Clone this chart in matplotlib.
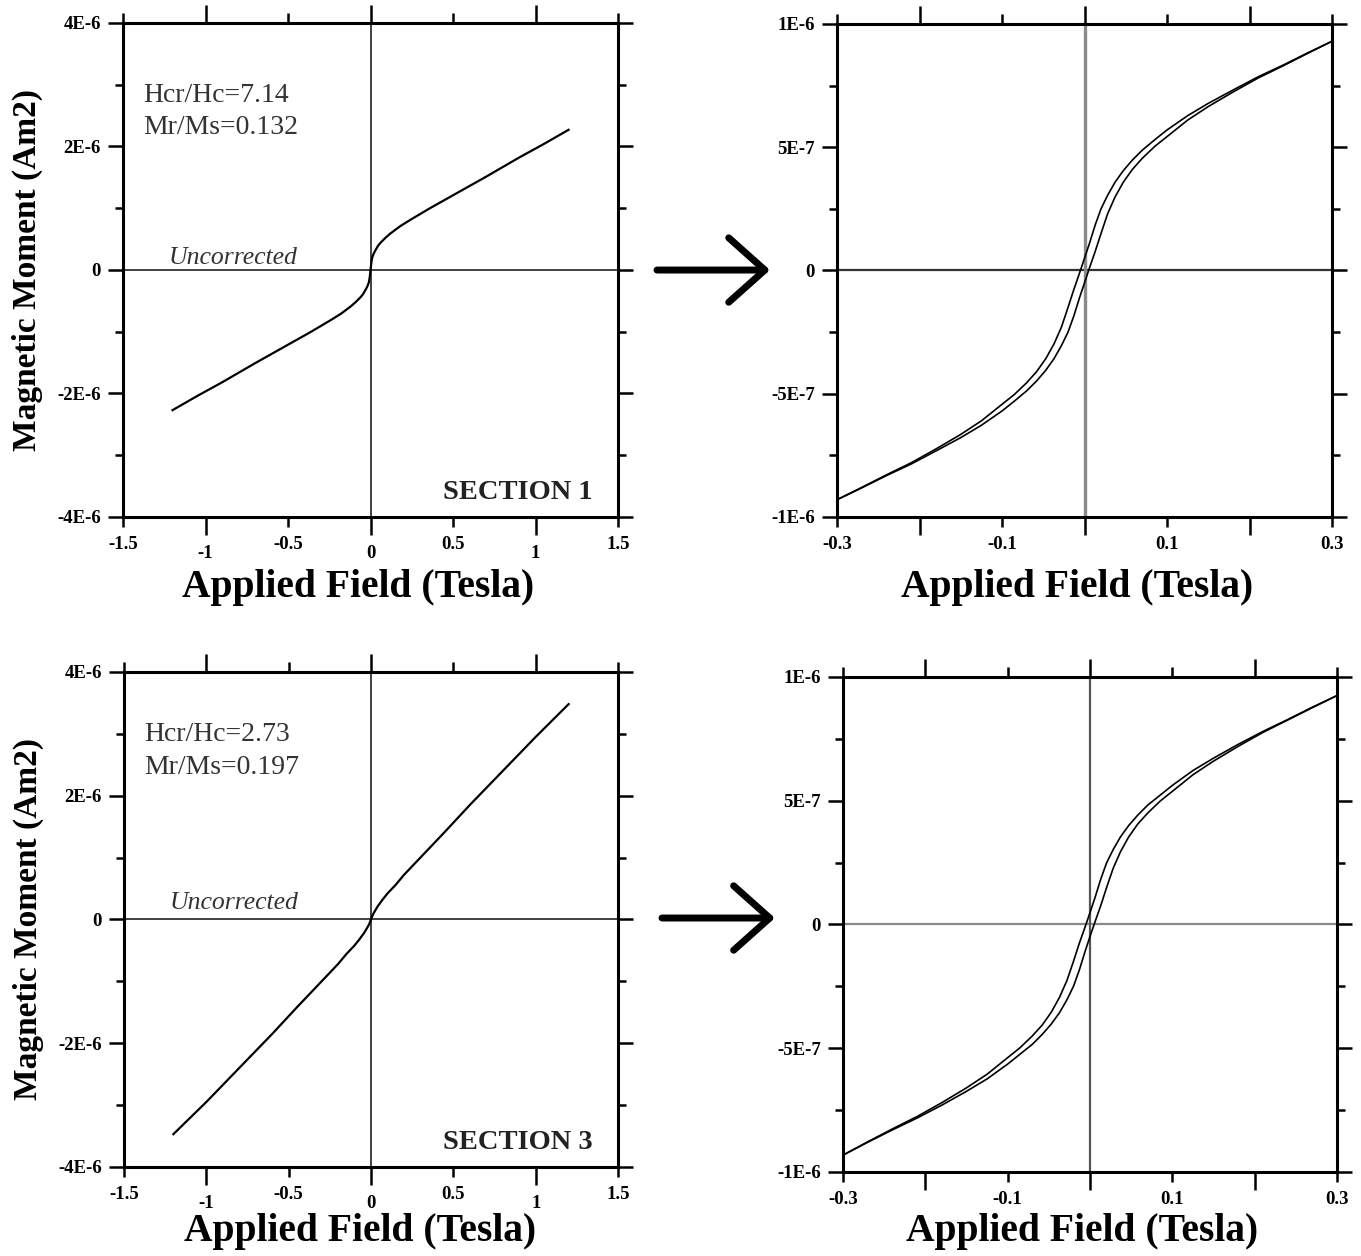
import matplotlib
matplotlib.use('Agg')
import matplotlib.pyplot as plt
from matplotlib.patches import FancyArrowPatch

plt.rcParams['font.family'] = ['Liberation Serif', 'DejaVu Serif']

# ---------------------------------------------------------- dane (moment w jednostkach 1E-6 Am2, pole w Tesli)
# SECTION 1 - petla niekorygowana
s1_field = [-1.20, -1.05, -0.90, -0.70, -0.50, -0.36, -0.24, -0.18, -0.12, -0.09, -0.06, -0.045, -0.03, -0.02,
            -0.01, -0.005, 0.0, 0.005, 0.01, 0.02, 0.03, 0.045, 0.06, 0.09, 0.12, 0.18, 0.24, 0.36, 0.50, 0.70,
            0.90, 1.05, 1.20]
s1_moment = [-2.27, -2.04, -1.82, -1.51, -1.21, -1.00, -0.81, -0.71, -0.59, -0.52, -0.44, -0.39, -0.32, -0.27,
             -0.20, -0.12, 0.0, 0.12, 0.20, 0.27, 0.32, 0.39, 0.44, 0.52, 0.59, 0.71, 0.81, 1.00, 1.21, 1.51,
             1.82, 2.04, 2.27]

# SECTION 3 - petla niekorygowana
s3_field = [-1.20, -1.0, -0.8, -0.6, -0.45, -0.3, -0.2, -0.15, -0.1, -0.07, -0.04, -0.02, -0.01, 0.0,
            0.01, 0.02, 0.04, 0.07, 0.1, 0.15, 0.2, 0.3, 0.45, 0.6, 0.8, 1.0, 1.20]
s3_moment = [-3.47, -2.95, -2.40, -1.85, -1.42, -1.00, -0.72, -0.56, -0.42, -0.32, -0.21, -0.12, -0.07, 0.0,
             0.07, 0.12, 0.21, 0.32, 0.42, 0.56, 0.72, 1.00, 1.42, 1.85, 2.40, 2.95, 3.48]

# SECTION 1 - petla po korekcie (galaz malejaca i rosnaca)
s1_dn_field = [0.300, 0.270, 0.240, 0.210, 0.180, 0.150, 0.125, 0.100, 0.085, 0.070, 0.058, 0.047, 0.037,
               0.028, 0.020, 0.013, 0.006, 0.000, -0.006, -0.013, -0.020, -0.028, -0.037, -0.047, -0.058,
               -0.070, -0.085, -0.100, -0.125, -0.150, -0.180, -0.210, -0.240, -0.270, -0.300]
s1_dn_moment = [0.930, 0.882, 0.832, 0.785, 0.732, 0.678, 0.628, 0.570, 0.530, 0.488, 0.448, 0.405, 0.358,
                0.305, 0.250, 0.185, 0.110, 0.050, -0.010, -0.078, -0.150, -0.230, -0.298, -0.358, -0.410,
                -0.455, -0.503, -0.543, -0.610, -0.665, -0.724, -0.780, -0.829, -0.880, -0.930]
s1_up_field = [-0.300, -0.270, -0.240, -0.210, -0.180, -0.150, -0.125, -0.100, -0.085, -0.070, -0.058, -0.047,
               -0.037, -0.028, -0.020, -0.013, -0.006, 0.000, 0.006, 0.013, 0.020, 0.028, 0.037, 0.047, 0.058,
               0.070, 0.085, 0.100, 0.125, 0.150, 0.180, 0.210, 0.240, 0.270, 0.300]
s1_up_moment = [-0.930, -0.882, -0.832, -0.785, -0.732, -0.678, -0.628, -0.570, -0.530, -0.488, -0.448, -0.405,
                -0.358, -0.305, -0.250, -0.185, -0.110, -0.050, 0.010, 0.078, 0.150, 0.230, 0.298, 0.358, 0.410,
                0.455, 0.503, 0.543, 0.610, 0.665, 0.724, 0.780, 0.829, 0.880, 0.930]

# SECTION 3 - petla po korekcie
s3_dn_field = [0.300, 0.270, 0.240, 0.210, 0.180, 0.150, 0.125, 0.100, 0.085, 0.070, 0.058, 0.047, 0.037,
               0.028, 0.020, 0.013, 0.006, 0.000, -0.006, -0.013, -0.020, -0.028, -0.037, -0.047, -0.058,
               -0.070, -0.085, -0.100, -0.125, -0.150, -0.180, -0.210, -0.240, -0.270, -0.300]
s3_dn_moment = [0.925, 0.878, 0.828, 0.780, 0.728, 0.672, 0.622, 0.562, 0.522, 0.482, 0.442, 0.400, 0.354,
                0.302, 0.248, 0.183, 0.108, 0.048, -0.010, -0.076, -0.148, -0.226, -0.294, -0.354, -0.406,
                -0.450, -0.498, -0.538, -0.605, -0.660, -0.720, -0.776, -0.826, -0.878, -0.932]
s3_up_field = [-0.300, -0.270, -0.240, -0.210, -0.180, -0.150, -0.125, -0.100, -0.085, -0.070, -0.058, -0.047,
               -0.037, -0.028, -0.020, -0.013, -0.006, 0.000, 0.006, 0.013, 0.020, 0.028, 0.037, 0.047, 0.058,
               0.070, 0.085, 0.100, 0.125, 0.150, 0.180, 0.210, 0.240, 0.270, 0.300]
s3_up_moment = [-0.932, -0.880, -0.830, -0.782, -0.730, -0.674, -0.624, -0.564, -0.524, -0.484, -0.444, -0.402,
                -0.356, -0.304, -0.249, -0.184, -0.109, -0.048, 0.010, 0.076, 0.148, 0.226, 0.294, 0.354, 0.406,
                0.450, 0.498, 0.538, 0.605, 0.660, 0.720, 0.776, 0.826, 0.876, 0.925]

# podpisy
left_ytick_vals = [-4, -2, 0, 2, 4]
left_ytick_labels = ['-4E-6', '-2E-6', '0', '2E-6', '4E-6']
left_yminor = [-3, -1, 1, 3]
right_ytick_vals = [-1.0, -0.5, 0.0, 0.5, 1.0]
right_ytick_labels = ['-1E-6', '-5E-7', '0', '5E-7', '1E-6']
right_yminor = [-0.75, -0.25, 0.25, 0.75]
left_xmajor = [-1, 0, 1]
left_xmajor_labels = ['-1', '0', '1']
left_xminor = [-1.5, -0.5, 0.5, 1.5]
left_xminor_labels = ['-1.5', '-0.5', '0.5', '1.5']
right_xmajor = [-0.2, 0.0, 0.2]
right_xminor = [-0.3, -0.1, 0.1, 0.3]
right_xminor_labels = ['-0.3', '-0.1', '0.1', '0.3']

# ---------------------------------------------------------- figura
fig = plt.figure('Histereza', figsize=(13.61, 12.56), dpi=100)
ax1 = fig.add_axes([0.0904, 0.5884, 0.3637, 0.3933])
ax2 = fig.add_axes([0.6150, 0.5884, 0.3637, 0.3925])
ax3 = fig.add_axes([0.0911, 0.0709, 0.3630, 0.3941])
ax4 = fig.add_axes([0.6194, 0.0669, 0.3630, 0.3941])


def styl(ax, xlim, ylim, xmaj, xmaj_lab, xmin, xmin_lab, ymaj, ymaj_lab, ymin):
    ax.set_xlim(xlim)
    ax.set_ylim(ylim)
    ax.set_xticks(xmaj)
    ax.set_xticklabels(xmaj_lab)
    ax.set_xticks(xmin, minor=True)
    ax.set_xticklabels(xmin_lab, minor=True)
    ax.set_yticks(ymaj)
    ax.set_yticklabels(ymaj_lab)
    ax.set_yticks(ymin, minor=True)
    ax.tick_params(axis='x', which='major', direction='out', length=13, width=1.8, pad=7,
                   top=True, labelsize=13.5)
    ax.tick_params(axis='x', which='minor', direction='out', length=7, width=1.8, pad=7,
                   top=True, labelsize=13.5)
    ax.tick_params(axis='y', which='major', direction='out', length=11, width=1.8, pad=5,
                   right=True, labelsize=13.5)
    ax.tick_params(axis='y', which='minor', direction='out', length=5.5, width=1.8, right=True)
    for lab in ax.get_xticklabels(which='both') + ax.get_yticklabels():
        lab.set_fontweight('bold')
    for sp in ax.spines.values():
        sp.set_linewidth(2.2)


# lewe wykresy
for ax, f, m, sec, hcr, mr, ky in [(ax1, s1_field, s1_moment, 'SECTION 1', 'Hcr/Hc=7.14', 'Mr/Ms=0.132',
                                    (0.853, 0.788, 0.525)),
                                   (ax3, s3_field, s3_moment, 'SECTION 3', 'Hcr/Hc=2.73', 'Mr/Ms=0.197',
                                    (0.873, 0.806, 0.533))]:
    styl(ax, (-1.5, 1.5), (-4, 4), left_xmajor, left_xmajor_labels, left_xminor, left_xminor_labels,
         left_ytick_vals, left_ytick_labels, left_yminor)
    ax.axhline(0, color='#333333', lw=1.3, zorder=1)
    ax.axvline(0, color='#333333', lw=1.3, zorder=1)
    ax.plot(f, m, color='black', lw=1.6, zorder=3)
    ax.text(0.04, ky[0], hcr, transform=ax.transAxes, fontsize=20, color='#333333', va='center')
    ax.text(0.04, ky[1], mr, transform=ax.transAxes, fontsize=20, color='#333333', va='center')
    ax.text(0.222, ky[2], 'Uncorrected', transform=ax.transAxes, fontsize=18.5, style='italic',
            color='#333333', ha='center', va='center')
    ax.text(0.948, 0.05, sec, transform=ax.transAxes, fontsize=20.5, fontweight='bold', color='#222222',
            ha='right', va='center')
    ax.set_ylabel('Magnetic Moment (Am2)', fontsize=24, fontweight='bold')
    ax.yaxis.set_label_coords(-0.162, 0.5)

ax1.set_xlabel('Applied Field (Tesla)', fontsize=28.5, fontweight='bold')
ax1.xaxis.set_label_coords(0.474, -0.105)
ax3.set_xlabel('Applied Field (Tesla)', fontsize=28.5, fontweight='bold')
ax3.xaxis.set_label_coords(0.478, -0.093)

# prawe wykresy (po korekcie)
for ax, fd, md, fu, mu, vcol, vlw, hcol in [(ax2, s1_dn_field, s1_dn_moment, s1_up_field, s1_up_moment,
                                             '#8a8a8a', 2.4, '#333333'),
                                            (ax4, s3_dn_field, s3_dn_moment, s3_up_field, s3_up_moment,
                                             '#555555', 1.6, '#8a8a8a')]:
    styl(ax, (-0.3, 0.3), (-1, 1), right_xmajor, ['', '', ''], right_xminor, right_xminor_labels,
         right_ytick_vals, right_ytick_labels, right_yminor)
    ax.axhline(0, color=hcol, lw=1.6, zorder=1)
    ax.axvline(0, color=vcol, lw=vlw, zorder=1)
    ax.plot(fd, md, color='black', lw=1.2, zorder=3)
    ax.plot(fu, mu, color='black', lw=1.2, zorder=3)

ax2.set_xlabel('Applied Field (Tesla)', fontsize=28.5, fontweight='bold')
ax2.xaxis.set_label_coords(0.484, -0.105)
ax4.set_xlabel('Applied Field (Tesla)', fontsize=28.5, fontweight='bold')
ax4.xaxis.set_label_coords(0.484, -0.083)

# strzalki miedzy wykresami
for y0, x0, x1 in [(0.785, 0.4827, 0.5658), (0.2691, 0.4864, 0.5694)]:
    arr = FancyArrowPatch((x0, y0), (x1, y0), transform=fig.transFigure,
                          arrowstyle='->,head_length=0.65,head_width=0.58', mutation_scale=40,
                          lw=5, color='black', shrinkA=0, shrinkB=0)
    fig.patches.append(arr)

fig.savefig('out.png', dpi=100, facecolor='white')
